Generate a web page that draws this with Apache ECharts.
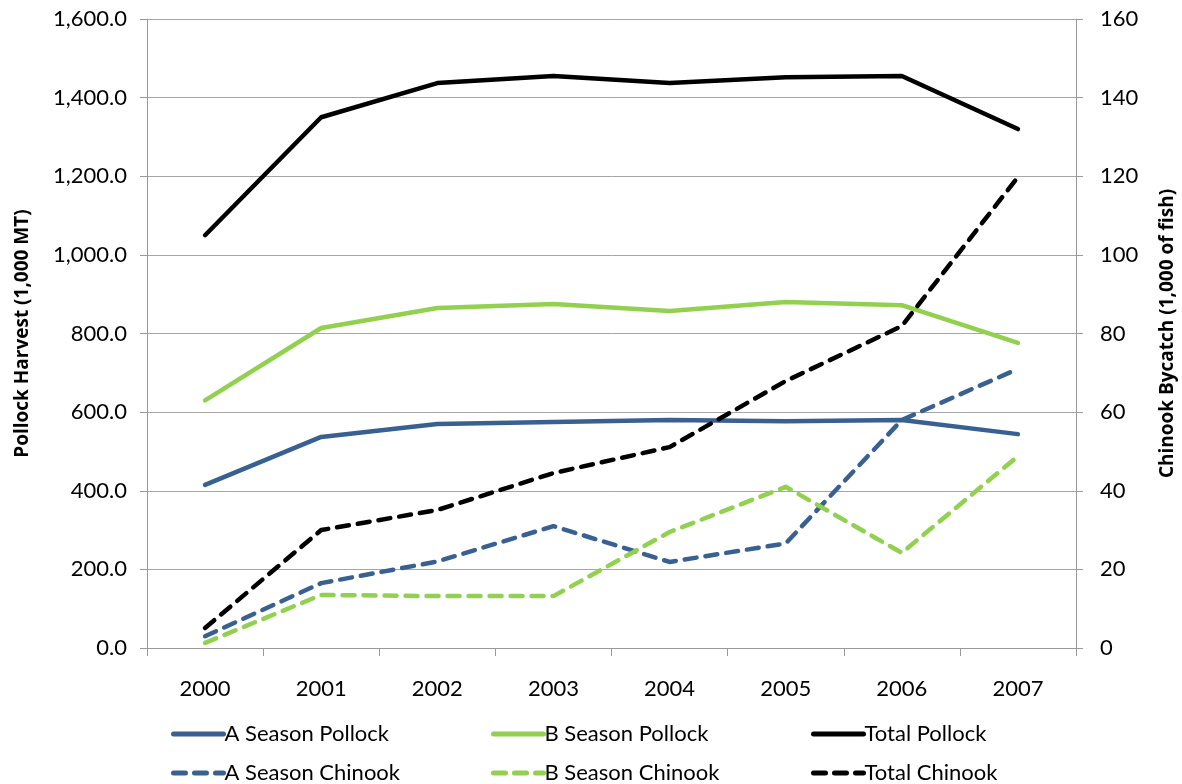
<!DOCTYPE html>
<html>
<head>
<meta charset="utf-8">
<script src="https://cdn.jsdelivr.net/npm/echarts@6/dist/echarts.min.js"></script>
<style>
  html, body { margin: 0; padding: 0; background: #fff; }
  #chart { width: 1182px; height: 784px; }
</style>
</head>
<body>
<div id="chart"></div>
<script>
// Bering Sea pollock harvest (1,000 MT) and Chinook bycatch (1,000 of fish)
const years = ['2000', '2001', '2002', '2003', '2004', '2005', '2006', '2007'];

const aSeasonPollock = [415, 537, 570, 575, 580, 577, 580, 544];
const bSeasonPollock = [630, 814, 865, 875, 857, 880, 872, 776];
const totalPollock   = [1050, 1350, 1437, 1455, 1437, 1452, 1455, 1320];

const aSeasonChinook = [3.0, 16.5, 22.0, 31.0, 21.9, 26.6, 58.0, 71.0];
const bSeasonChinook = [1.3, 13.5, 13.2, 13.2, 29.5, 41.0, 24.2, 48.8];
const totalChinook   = [5.1, 30.0, 35.1, 44.5, 51.1, 67.9, 81.9, 119.8];

const BLUE = '#386192';
const GREEN = '#92D050';
const BLACK = '#000000';
const FONT = 'Lato, "Open Sans", sans-serif';
const TITLE_FONT = '"Open Sans", "Noto Sans", sans-serif';
const DASH = [12, 9];

function lineSeries(name, data, color, dashed, axisIndex) {
  return {
    name: name,
    type: 'line',
    data: data,
    yAxisIndex: axisIndex,
    symbol: 'none',
    showSymbol: false,
    smooth: false,
    lineStyle: {
      color: color,
      width: 4.5,
      type: dashed ? DASH : 'solid',
      cap: 'round',
      join: 'round'
    },
    itemStyle: { color: color },
    emphasis: { disabled: true }
  };
}

function legendAt(name, left, top) {
  return {
    data: [name],
    left: left,
    top: top,
    itemWidth: 50,
    itemHeight: 14,
    itemGap: 2,
    selectedMode: false,
    itemStyle: { opacity: 0 },
    lineStyle: { width: 5, cap: 'round' },
    textStyle: { fontFamily: FONT, fontSize: 22, color: '#000', padding: [0, 0, 0, -4] }
  };
}

const chart = echarts.init(document.getElementById('chart'), null, { renderer: 'canvas' });

chart.setOption({
  backgroundColor: '#ffffff',
  animation: false,
  grid: { left: 147, right: 106, top: 19, bottom: 136, containLabel: false, outerBoundsMode: 'none' },
  legend: [
    legendAt('A Season Pollock', 166, 718),
    legendAt('B Season Pollock', 486, 718),
    legendAt('Total Pollock', 806, 718),
    legendAt('A Season Chinook', 166, 757),
    legendAt('B Season Chinook', 486, 757),
    legendAt('Total Chinook', 806, 757)
  ],
  xAxis: {
    type: 'category',
    data: years,
    boundaryGap: true,
    axisLine: { show: true, lineStyle: { color: '#999999', width: 1 } },
    axisTick: { show: true, length: 8, alignWithLabel: false, lineStyle: { color: '#999999' } },
    axisLabel: { margin: 30, fontFamily: FONT, fontSize: 22, color: '#000' },
    splitLine: { show: false }
  },
  yAxis: [
    {
      type: 'value',
      min: 0,
      max: 1600,
      interval: 200,
      position: 'left',
      name: 'Pollock Harvest (1,000 MT)',
      nameLocation: 'middle',
      nameRotate: 90,
      nameGap: 115,
      nameTextStyle: { fontFamily: TITLE_FONT, fontSize: 19, fontWeight: 'bold', color: '#000' },
      axisLine: { show: true, lineStyle: { color: '#999999', width: 1 } },
      axisTick: { show: true, length: 7, lineStyle: { color: '#999999' } },
      axisLabel: {
        margin: 20,
        fontFamily: FONT,
        fontSize: 22,
        color: '#000',
        formatter: v => v.toLocaleString('en-US', { minimumFractionDigits: 1, maximumFractionDigits: 1 })
      },
      splitLine: { show: true, lineStyle: { color: '#A6A6A6', width: 1 } }
    },
    {
      type: 'value',
      min: 0,
      max: 160,
      interval: 20,
      position: 'right',
      name: 'Chinook Bycatch (1,000 of fish)',
      nameLocation: 'middle',
      nameRotate: 90,
      nameGap: 82,
      nameTextStyle: { fontFamily: TITLE_FONT, fontSize: 19, fontWeight: 'bold', color: '#000' },
      axisLine: { show: true, lineStyle: { color: '#999999', width: 1 } },
      axisTick: { show: true, length: 7, lineStyle: { color: '#999999' } },
      axisLabel: { margin: 24, fontFamily: FONT, fontSize: 22, color: '#000' },
      splitLine: { show: false }
    }
  ],
  series: [
    lineSeries('A Season Pollock', aSeasonPollock, BLUE, false, 0),
    lineSeries('B Season Pollock', bSeasonPollock, GREEN, false, 0),
    lineSeries('Total Pollock', totalPollock, BLACK, false, 0),
    lineSeries('A Season Chinook', aSeasonChinook, BLUE, true, 1),
    lineSeries('B Season Chinook', bSeasonChinook, GREEN, true, 1),
    lineSeries('Total Chinook', totalChinook, BLACK, true, 1)
  ]
});
</script>
</body>
</html>
